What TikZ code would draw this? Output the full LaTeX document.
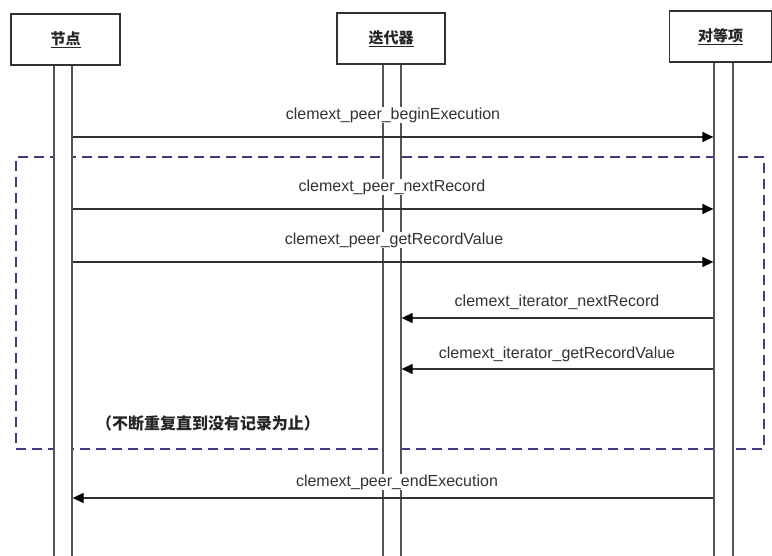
\documentclass[tikz,border=0pt]{standalone}
\usepackage{fontspec}
\setmainfont{Liberation Sans}
\newfontfamily\cjk{Noto Sans CJK SC}
\usetikzlibrary{arrows.meta}
\definecolor{linegray}{RGB}{50,50,50}
\definecolor{bargray}{RGB}{85,85,85}
\definecolor{dashblue}{RGB}{60,60,135}
\tikzset{
  hdr/.style={draw=linegray, line width=1.4pt, fill=white, inner sep=0pt, font=\cjk\bfseries\fontsize{15}{18}\selectfont, text=black!85},
  lifebar/.style={draw=bargray, line width=1.3pt, fill=white, inner sep=0pt, minimum width=18pt, anchor=north},
  msg/.style={draw=linegray, line width=1.3pt, -{Triangle[length=11pt,width=10pt,color=black]}},
  lbl/.style={fill=white, inner sep=0.5pt, text=black!80, font=\fontsize{16}{19}\selectfont},
  loopbox/.style={draw=dashblue, line width=1.4pt, dash pattern=on 10pt off 6pt},
}
\begin{document}
\begin{tikzpicture}[x=1pt,y=-1pt]
\useasboundingbox (0,0) rectangle (772,556);
% loop frame
\node[loopbox, inner sep=0pt, minimum width=748pt, minimum height=292pt] (loop) at (390,303) {};
% lifelines
\node[lifebar, minimum height=491pt] (nb) at (63,65) {};
\node[lifebar, minimum height=492pt] (ib) at (392,64) {};
\node[lifebar, minimum height=494pt, minimum width=19pt] (pb) at (723.5,62) {};
% header boxes
\node[hdr, minimum width=109pt, minimum height=51pt] (node) at (65.5,39.5) {\underline{节点}};
\node[hdr, minimum width=108pt, minimum height=51pt] (iter) at (391,38.5) {\underline{迭代器}};
\node[hdr, minimum width=102pt, minimum height=51pt] (peer) at (720.5,36.5) {\underline{对等项}};
% message levels
\coordinate (y1) at (0,137);
\coordinate (y2) at (0,209);
\coordinate (y3) at (0,262);
\coordinate (y4) at (0,318);
\coordinate (y5) at (0,369);
\coordinate (y6) at (0,498);
% messages
\draw[msg] (nb.east |- y1) -- (pb.west |- y1);
\draw[msg] (nb.east |- y2) -- (pb.west |- y2);
\draw[msg] (nb.east |- y3) -- (pb.west |- y3);
\draw[msg] (pb.west |- y4) -- (ib.east |- y4);
\draw[msg] (pb.west |- y5) -- (ib.east |- y5);
\draw[msg] (pb.west |- y6) -- (nb.east |- y6);
% labels
\node[lbl] (l1) at (393,115) {clemext\_peer\_beginExecution};
\node[lbl] (l2) at (392,187) {clemext\_peer\_nextRecord};
\node[lbl] (l3) at (394,240) {clemext\_peer\_getRecordValue};
\node[lbl] (l4) at (557,302) {clemext\_iterator\_nextRecord};
\node[lbl] (l5) at (557,354) {clemext\_iterator\_getRecordValue};
\node[lbl] (l6) at (397,482) {clemext\_peer\_endExecution};
\node[inner sep=0pt, text=black!85, font=\cjk\bfseries\fontsize{16}{19}\selectfont] (note) at (208,423) {（不断重复直到没有记录为止）};
\end{tikzpicture}
\end{document}
